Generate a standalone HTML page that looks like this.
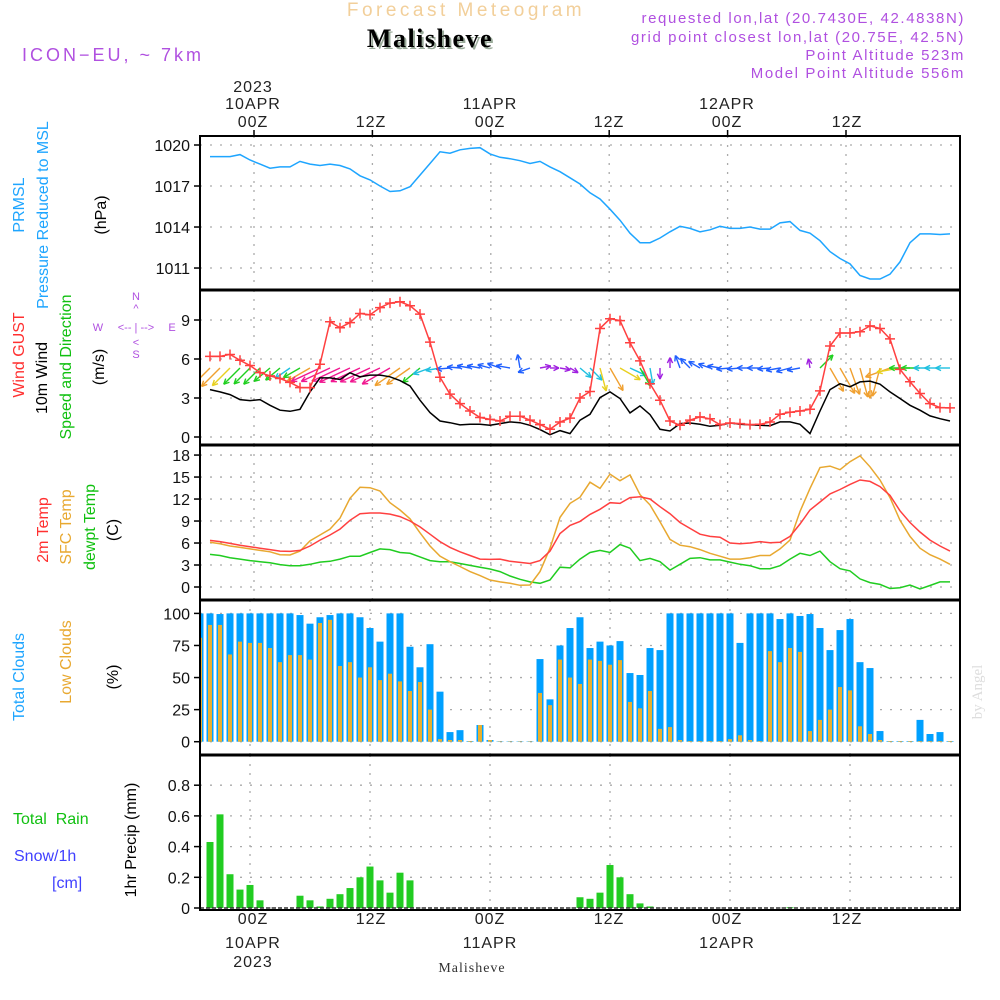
<!DOCTYPE html>
<html><head><meta charset="utf-8"><style>
body{margin:0;background:#fff}
svg{display:block;font-family:"Liberation Sans",sans-serif}
</style></head><body>
<svg id="chart" width="1000" height="1000" viewBox="0 0 1000 1000" xmlns="http://www.w3.org/2000/svg">
<text x="466" y="16" font-size="19" fill="#f2cf9a" text-anchor="middle" letter-spacing="3.5">Forecast Meteogram</text>
<text x="432" y="49" font-size="26" font-weight="bold" fill="#9a9" text-anchor="middle" letter-spacing="1.5" font-family="Liberation Serif, serif">Malisheve</text>
<text x="430" y="47" font-size="26" font-weight="bold" fill="#000" text-anchor="middle" letter-spacing="1.5" font-family="Liberation Serif, serif">Malisheve</text>
<text x="22" y="61" font-size="18" fill="#b050e0" letter-spacing="3">ICON−EU, ~ 7km</text>
<g font-size="15" fill="#b050e0" text-anchor="end" letter-spacing="1.6">
<text x="965" y="23">requested lon,lat (20.7430E, 42.4838N)</text>
<text x="965" y="42">grid point closest lon,lat (20.75E, 42.5N)</text>
<text x="965" y="60">Point Altitude 523m</text>
<text x="965" y="78">Model Point Altitude 556m</text>
</g>
<g font-size="16" fill="#222" text-anchor="middle" letter-spacing="1">
<text x="253" y="92">2023</text><text x="253" y="109">10APR</text><text x="253" y="127">00Z</text>
<text x="371" y="127">12Z</text>
<text x="490" y="109">11APR</text><text x="490" y="127">00Z</text>
<text x="609" y="127">12Z</text>
<text x="727" y="109">12APR</text><text x="727" y="127">00Z</text>
<text x="847" y="127">12Z</text>
</g>
<g font-size="16" fill="#222" text-anchor="middle" letter-spacing="1">
<text x="253" y="924">00Z</text><text x="253" y="948">10APR</text><text x="253" y="967">2023</text>
<text x="371" y="924">12Z</text>
<text x="490" y="924">00Z</text><text x="490" y="948">11APR</text>
<text x="609" y="924">12Z</text>
<text x="727" y="924">00Z</text><text x="727" y="948">12APR</text>
<text x="847" y="924">12Z</text>
</g>
<text x="472" y="972" font-size="14" fill="#333" text-anchor="middle" font-family="Liberation Serif, serif" letter-spacing="1">Malisheve</text>
<g font-size="16">
<text transform="translate(24,205) rotate(-90)" text-anchor="middle" fill="#1ea5ff">PRMSL</text>
<text transform="translate(48,215) rotate(-90)" text-anchor="middle" fill="#1ea5ff">Pressure  Reduced to MSL</text>
<text transform="translate(106,215) rotate(-90)" text-anchor="middle" fill="#000">(hPa)</text>
</g>
<g font-size="16">
<text transform="translate(24,355) rotate(-90)" text-anchor="middle" fill="#ff3030">Wind GUST</text>
<text transform="translate(47,378) rotate(-90)" text-anchor="middle" fill="#000">10m Wind</text>
<text transform="translate(71,367) rotate(-90)" text-anchor="middle" fill="#10c010">Speed and Direction</text>
<text transform="translate(104,367) rotate(-90)" text-anchor="middle" fill="#000">(m/s)</text>
</g>
<g font-size="11" fill="#b050e0" text-anchor="middle">
<text x="136" y="300">N</text><text x="136" y="312">^</text>
<text x="98" y="331">W</text><text x="136" y="331">&lt;-- | --&gt;</text><text x="172" y="331">E</text>
<text x="136" y="346">&lt;</text><text x="136" y="358">S</text>
</g>
<g font-size="16">
<text transform="translate(48,530) rotate(-90)" text-anchor="middle" fill="#ff3030">2m Temp</text>
<text transform="translate(71,527) rotate(-90)" text-anchor="middle" fill="#e8a830">SFC Temp</text>
<text transform="translate(95,527) rotate(-90)" text-anchor="middle" fill="#10c010">dewpt Temp</text>
<text transform="translate(118,530) rotate(-90)" text-anchor="middle" fill="#000">(C)</text>
</g>
<g font-size="16">
<text transform="translate(24,677) rotate(-90)" text-anchor="middle" fill="#1ea5ff">Total Clouds</text>
<text transform="translate(71,662) rotate(-90)" text-anchor="middle" fill="#e8a830">Low Clouds</text>
<text transform="translate(118,677) rotate(-90)" text-anchor="middle" fill="#000">(%)</text>
</g>
<g font-size="16">
<text x="13" y="824" fill="#10c010" xml:space="preserve">Total  Rain</text>
<text x="14" y="861" fill="#4040ff">Snow/1h</text>
<text x="52" y="888" fill="#4040ff">[cm]</text>
<text transform="translate(136,840) rotate(-90)" text-anchor="middle" fill="#000">1hr Precip (mm)</text>
</g>
<text transform="translate(982,692) rotate(-90)" font-size="15" fill="#ddd" text-anchor="middle" font-family="Liberation Serif, serif">by Angel</text>
<g id="plot"></g>
</svg>
<script>
const lineHourStart = -4;
const pressure = [1019.15,1019.15,1019.15,1019.3,
1018.9,1018.6,1018.3,1018.4,1018.4,1018.8,1018.6,1018.5,1018.6,1018.5,
1018.25,1017.75,1017.45,1017.0,1016.6,1016.65,1016.95,1017.8,1018.65,1019.5,
1019.4,1019.65,1019.75,1019.8,1019.35,1019.1,1019.0,1018.85,1018.65,1018.8,
1018.4,1018.05,1017.6,1017.15,1016.5,1016.05,1015.3,1014.5,1013.55,1012.85,
1012.85,1013.2,1013.65,1014.05,1013.9,1013.65,1013.8,1014.05,1013.9,1013.9,
1014.0,1013.85,1013.85,1014.3,1014.4,1013.75,1013.55,1013.0,1012.2,1011.7,
1011.3,1010.45,1010.2,1010.2,1010.55,1011.45,1012.85,1013.5,1013.5,1013.45,
1013.5];
const windGust = [6.2,6.2,6.35,5.9,
5.5,4.95,4.7,4.5,4.2,3.8,3.8,5.6,8.87,8.4,
8.8,9.5,9.4,9.95,10.3,10.4,10.1,9.45,7.3,4.6,
3.3,2.57,2.0,1.5,1.36,1.23,1.6,1.6,1.3,0.95,
0.6,1.15,1.45,3.0,3.5,8.35,9.1,8.95,7.25,5.86,
4.1,2.83,1.23,0.9,1.3,1.55,1.4,0.95,1.08,1.03,
0.95,0.98,1.15,1.75,1.9,2.0,2.13,3.55,7.0,8.0,
8.0,8.1,8.55,8.35,7.55,5.2,4.25,3.35,2.57,2.26,
2.24];
const windSpeed = [3.65,3.47,3.26,2.88,
2.8,2.88,2.44,2.06,1.98,2.13,3.47,4.55,4.55,4.42,
4.94,4.63,4.76,4.76,4.63,4.34,3.93,2.83,1.88,1.23,
1.1,0.93,0.98,0.98,0.9,1.03,1.16,1.1,0.9,0.57,
0.18,0.49,0.26,1.29,1.75,3.03,3.47,2.96,1.85,2.39,
1.72,0.59,0.46,1.03,1.08,0.98,0.82,0.9,1.08,0.98,
0.93,0.9,0.87,1.16,1.16,0.98,0.26,2.0,3.65,4.1,
3.86,4.24,4.3,4.06,3.47,2.96,2.44,2.06,1.62,1.41,
1.23];
const windToDir = [225,225,225,225,
225,225,220,220,215,210,210,205,205,205,
205,205,205,205,210,215,215,220,200,190,
185,175,170,170,165,160,170,100,200,10,
0,350,330,320,315,285,300,330,335,300,
280,270,90,110,135,150,160,170,185,185,
180,180,185,190,195,190,100,45,300,300,
290,285,270,255,200,190,180,180,180,180,
180];
const temp2m = [6.36,6.2,5.95,5.7,
5.5,5.3,5.1,4.9,4.86,5.0,5.6,6.4,7.1,7.9,
9.1,10.0,10.1,10.1,9.95,9.6,9.0,8.2,7.2,6.2,
5.4,4.8,4.3,3.8,3.77,3.8,3.5,3.36,3.2,3.6,
4.9,7.3,8.4,8.95,9.9,10.6,11.5,11.4,12.2,12.3,
12.0,10.95,10.0,8.8,8.0,7.2,6.9,6.8,6.0,5.9,
6.0,6.2,6.05,6.1,6.9,8.6,10.5,11.6,12.7,13.3,
14.0,14.6,14.4,13.7,12.5,10.4,8.8,7.5,6.4,5.6,
4.9];
const tempSfc = [6.1,5.9,5.6,5.4,
5.2,5.0,4.8,4.4,4.36,4.9,6.3,7.1,7.9,9.4,
12.1,13.6,13.55,13.1,11.5,10.5,9.3,7.4,5.6,4.2,
3.45,2.8,2.1,1.55,0.95,0.7,0.5,0.23,0.27,2.1,
5.3,9.5,11.4,12.25,14.3,13.45,15.4,14.5,15.3,12.6,
11.2,8.9,6.5,5.7,5.5,5.1,4.6,4.2,3.8,3.8,
4.0,4.3,4.3,5.2,6.4,10.3,13.45,16.3,16.5,16.0,
17.1,17.9,16.4,14.6,12.2,9.1,6.9,5.3,4.4,3.8,
3.1];
const tempDew = [4.45,4.3,4.0,3.8,
3.6,3.45,3.3,3.05,2.9,2.9,3.1,3.4,3.5,3.8,
4.2,4.2,4.7,5.2,5.1,4.7,4.6,4.1,3.6,3.45,
3.45,3.2,2.95,2.7,2.45,2.1,1.5,1.05,0.7,0.5,
0.95,2.7,2.6,3.8,4.7,5.0,4.7,5.8,5.3,3.6,
3.9,3.45,2.3,3.1,3.9,4.0,3.7,3.7,3.4,3.1,
2.9,2.5,2.5,2.9,3.8,4.6,4.3,4.9,3.45,2.5,
2.2,1.1,0.6,0.36,-0.2,-0.1,0.27,-0.27,0.2,0.7,
0.7];
const barHourStart = -5;
const totalClouds = [100,100,99.5,100,100,
100,100,100,100,100,98.7,92,97,98.7,100,
100,97,88.6,78,100,100,74,58,76,39,
7.5,9,0.5,13,1.3,0.3,0.3,0.3,0.3,64.4,
33,75,88.6,97,73,78,75,78.4,53.5,52,
73,71.4,100,100,100,100,100,100,100,77,
100,100,100,95.6,100,98,99.5,88.6,71.4,87,
95.6,62,57.4,8.3,0.5,0.5,0.5,17,6,7.5,
0.5];
const lowClouds = [81,91,91,68,78,
77,77,73,62,67.5,67.5,64,92.5,95,59,
62,50,58,48,53,47,39.5,46.5,25,2,
1.3,1.3,0.5,13,1.3,0.3,0.3,0.3,0.3,38,
28.5,64,50,45,64,63,60,63.6,31,26,
39.5,10,11.4,1.3,0.5,0.5,0.5,0.5,2,5,
1.3,0.5,70.6,62,73,70,8.3,17,25,42.6,
40,12,6,1.3,0.5,0.5,0.5,0.5,0.5,0.5,
0.5];
const precip = [0,0.43,0.61,0.22,0.12,
0.15,0.05,0,0,0,0.08,0.05,0.01,0.06,0.09,
0.13,0.2,0.27,0.18,0.1,0.23,0.18,0,0,0,
0,0,0,0,0,0,0,0,0,0,
0,0,0,0.07,0.06,0.1,0.28,0.2,0.09,0.03,
0.01,0,0,0,0,0,0,0,0,0,
0,0,0,0,0.005,0,0,0,0,0,
0,0,0,0,0,0,0,0,0,0,
0];
const pressureTicks = [1020,1017,1014,1011];
const windTicks = [0,3,6,9];
const tempTicks = [0,3,6,9,12,15,18];
const cloudTicks = [0,25,50,75,100];
const precipTicks = [0,0.2,0.4,0.6,0.8];
const timeGridHours = [0,12,24,36,48,60];

const L = 200, R = 960;
const xH = h => 250 + 10*h;
const xGridLine = h => 254 + h*118.4/12;
const yP = p => 145 + (1020 - p)*13.67;
const yW = v => 437 - v*13;
const yT = v => 587 - v*7.33;
const yC = v => 741.7 - v*1.283;
const yR = v => 908 - v*153.5;
const panels = [
  {name:'pressure-panel', top:136, bot:290, ticks:pressureTicks, y:yP, grid:'line', fmt:v=>v},
  {name:'wind-panel', top:290, bot:445, ticks:windTicks, y:yW, grid:'line', fmt:v=>v},
  {name:'temperature-panel', top:445, bot:600, ticks:tempTicks, y:yT, grid:'line', fmt:v=>v},
  {name:'cloud-panel', top:600, bot:755, ticks:cloudTicks, y:yC, grid:'bar', fmt:v=>v},
  {name:'precip-panel', top:755, bot:910, ticks:precipTicks, y:yR, grid:'bar', fmt:v=>v===0?'0':v.toFixed(1)}
];
const NS = 'http://www.w3.org/2000/svg';
const plot = document.getElementById('plot');
function mk(tag, attrs, parent){
  const e = document.createElementNS(NS, tag);
  for (const k in attrs) e.setAttribute(k, attrs[k]);
  (parent||plot).appendChild(e);
  return e;
}
const defs = mk('defs',{});
panels.forEach((p,i)=>{
  const cp = mk('clipPath',{id:'clip'+i},defs);
  mk('rect',{x:L,y:p.top,width:R-L,height:p.bot-p.top},cp);
});

panels.forEach((p,i)=>{
  const g = mk('g',{});
  
  
  p.ticks.forEach(t=>{
    const y = p.y(t);
    const gl = mk('line',{x1:L,x2:R,y1:y,y2:y,stroke:'#aaa','stroke-width':1.3,'stroke-dasharray':'2 8'},g);
    
    
    mk('line',{x1:L-6,x2:L,y1:y,y2:y,stroke:'#000','stroke-width':1.5},g);
    const tx = mk('text',{x:L-10,y:y+6,'font-size':16,'text-anchor':'end',fill:'#111'},g);
    
    
    tx.textContent = p.fmt(t);
  });
  timeGridHours.forEach(h=>{
    const x = p.grid==='line' ? xGridLine(h) : xH(h);
    const vl = mk('line',{x1:x,x2:x,y1:p.top,y2:p.bot,stroke:'#aaa','stroke-width':1.3,'stroke-dasharray':'2 7'},g);
    
    
  });
});
timeGridHours.forEach(h=>{
  mk('line',{x1:xGridLine(h),x2:xGridLine(h),y1:130,y2:136,stroke:'#000','stroke-width':1.5});
});

function linePath(arr, y, color, name, clip){
  const d = arr.map((v,i)=>(i?'L':'M')+xH(lineHourStart+i).toFixed(1)+','+y(v).toFixed(1)).join('');
  const p = mk('path',{d:d,fill:'none',stroke:color,'stroke-width':1.5,'clip-path':'url(#clip'+clip+')'});
  
  
  return p;
}
linePath(pressure, yP, '#1ea5ff', 'pressure-line', 0);
function arrowColor(s){
  if (s>=4.4) return '#f01890';
  if (s>=3.3) return '#f0a030';
  if (s>=2.9) return '#e8d020';
  if (s>=2.0) return '#20d020';
  if (s>=1.2) return '#20c0e0';
  if (s>=0.6) return '#2060ff';
  return '#a020e0';
}
const arrows = mk('g',{'clip-path':'url(#clip1)'});


windToDir.forEach((d,i)=>{
  const s = windSpeed[i];
  const len = 8 + 5.2*s;
  const x0 = xH(lineHourStart+i), y0 = 368;
  const a = d*Math.PI/180;
  const x1 = x0 + len*Math.cos(a), y1 = y0 - len*Math.sin(a);
  const c = arrowColor(s);
  const ag = mk('g',{stroke:c,'stroke-width':1.4,fill:'none'},arrows);
  
  
  mk('line',{x1:x0,y1:y0,x2:x1,y2:y1},ag);
  [a+Math.PI-0.45, a+Math.PI+0.45].forEach(b=>{
    mk('line',{x1:x1,y1:y1,x2:x1+6*Math.cos(b),y2:y1-6*Math.sin(b)},ag);
  });
});
linePath(windSpeed, yW, '#000', 'wind-speed-line', 1);
linePath(windGust, yW, '#ff4040', 'wind-gust-line', 1);
const gm = mk('g',{stroke:'#ff4040','stroke-width':1.5,'clip-path':'url(#clip1)'});


windGust.forEach((v,i)=>{
  const x = xH(lineHourStart+i), y = yW(v);
  mk('path',{d:`M${x-5},${y}H${x+5}M${x},${y-5}V${y+5}`},gm);
});
linePath(tempDew, yT, '#20cc20', 'dewpoint-line', 2);
linePath(tempSfc, yT, '#e8a830', 'sfc-temp-line', 2);
linePath(temp2m, yT, '#ff4040', 'temp-2m-line', 2);
const cg = mk('g',{'clip-path':'url(#clip3)'});


totalClouds.forEach((v,i)=>{
  const x = xH(barHourStart+i);
  const b = mk('rect',{x:x-3.5,y:yC(v),width:7,height:yC(0)-yC(v),fill:'#00a0ff'},cg);
  
  
  const lv = lowClouds[i];
  const lb = mk('rect',{x:x-2,y:yC(lv),width:4,height:yC(0)-yC(lv),fill:'#e8b030'},cg);
  
  
});
const pg = mk('g',{'clip-path':'url(#clip4)'});


precip.forEach((v,i)=>{
  if (v<=0) return;
  const x = xH(barHourStart+i);
  const b = mk('rect',{x:x-3.5,y:yR(v),width:7,height:Math.max(1,yR(0)-yR(v)),fill:'#22cc22'},pg);
  
  
});
mk('line',{x1:L,x2:R,y1:908,y2:908,stroke:'#333','stroke-width':1.5,'stroke-dasharray':'4 2'});
const fr = mk('g',{stroke:'#000',fill:'none'});


mk('rect',{x:L,y:136,width:R-L,height:774,'stroke-width':2},fr);
[290,445,600,755].forEach(y=>mk('line',{x1:L,x2:R,y1:y,y2:y,'stroke-width':3},fr));
</script>
</body></html>
